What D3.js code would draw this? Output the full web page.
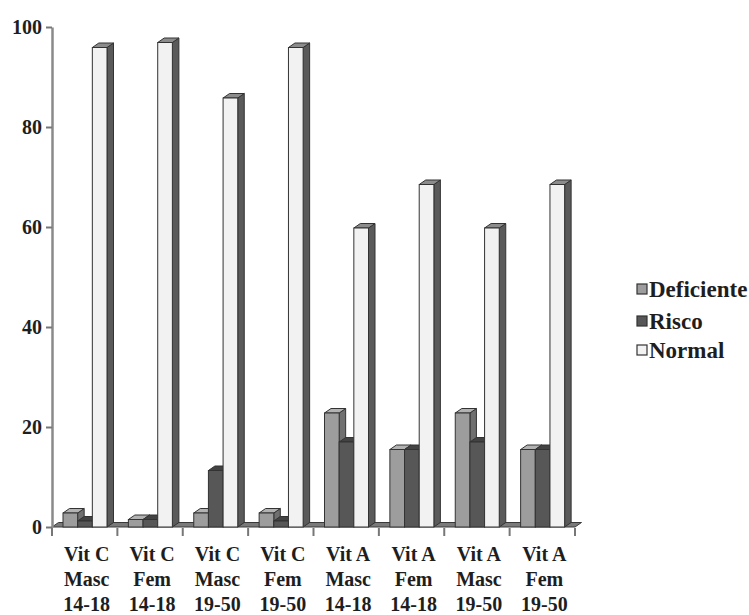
<!DOCTYPE html>
<html>
<head>
<meta charset="utf-8">
<script src="https://cdn.jsdelivr.net/npm/d3@7"></script>
<style>
  body { margin: 0; background: #fff; }
  svg { display: block; }
  text { font-family: "Liberation Serif", "Times New Roman", serif; font-weight: bold; fill: #1e1e1e; }
</style>
</head>
<body>
<svg id="chart" width="749" height="615"></svg>
<script>
// Category label lines
const nutrients = ["Vit C", "Vit C", "Vit C", "Vit C", "Vit A", "Vit A", "Vit A", "Vit A"];
const sexes = ["Masc", "Fem", "Masc", "Fem", "Masc", "Fem", "Masc", "Fem"];
const ages = ["14-18", "14-18", "19-50", "19-50", "14-18", "14-18", "19-50", "19-50"];

// Series (percent of group)
const seriesNames = ["Deficiente", "Risco", "Normal"];
const deficiente = [2.8, 1.5, 2.8, 2.8, 22.8, 15.5, 22.8, 15.5];
const risco = [1.2, 1.5, 11.3, 1.2, 17.0, 15.5, 17.0, 15.5];
const normal = [95.9, 96.9, 85.8, 95.9, 59.8, 68.5, 59.8, 68.5];
const yTicks = [0, 20, 40, 60, 80, 100];

const seriesValues = { Deficiente: deficiente, Risco: risco, Normal: normal };

const svg = d3.select("#chart");

// Scales
const x = d3.scaleBand().domain(d3.range(nutrients.length)).range([52, 575]).padding(0);
const xs = d3.scaleBand().domain(seriesNames).range([11, 55]).padding(0);
const y = d3.scaleLinear().domain([0, 100]).range([527, 27]);

// 3D depth offset for top/side faces
const DX = 6.5, DY = -4.5;

const faces = {
  Deficiente: { front: "#9d9d9d", top: "#b2b2b2", side: "#707070" },
  Risco:      { front: "#575757", top: "#434343", side: "#383838" },
  Normal:     { front: "#f2f2f2", top: "#8c8c8c", side: "#5a5a5a" }
};
const edge = "#333";

// Floor
const y0 = y(0), xL = x.range()[0], xR = x.range()[1];
svg.append("polygon")
  .attr("points", [[xL, y0], [xR, y0], [xR + DX, y0 + DY], [xL + DX, y0 + DY]].map(p => p.join(",")).join(" "))
  .attr("fill", "#7a7a7a")
  .attr("stroke", "#3a3a3a")
  .attr("stroke-width", 1);

// Bars, drawn left to right so each front face overlaps its neighbour's side
const barsG = svg.append("g");
nutrients.forEach((_, i) => {
  seriesNames.forEach(s => {
    const v = seriesValues[s][i];
    const x0 = x(i) + xs(s), x1 = x0 + xs.bandwidth();
    const yv = y(v);
    const g = barsG.append("g");
    g.append("polygon")
      .attr("points", [[x1, yv], [x1 + DX, yv + DY], [x1 + DX, y0 + DY], [x1, y0]].map(p => p.join(",")).join(" "))
      .attr("fill", faces[s].side).attr("stroke", edge).attr("stroke-width", 1).attr("stroke-linejoin", "round");
    g.append("polygon")
      .attr("points", [[x0, yv], [x1, yv], [x1 + DX, yv + DY], [x0 + DX, yv + DY]].map(p => p.join(",")).join(" "))
      .attr("fill", faces[s].top).attr("stroke", edge).attr("stroke-width", 1).attr("stroke-linejoin", "round");
    g.append("rect")
      .attr("x", x0).attr("y", yv)
      .attr("width", x1 - x0).attr("height", y0 - yv)
      .attr("fill", faces[s].front).attr("stroke", edge).attr("stroke-width", 1);
  });
});

// Value axis
const yAxis = svg.append("g")
  .attr("transform", `translate(${xL},0)`)
  .call(d3.axisLeft(y).tickValues(yTicks).tickSize(6).tickSizeOuter(0).tickPadding(4));
yAxis.select(".domain").attr("stroke", "#8a8a8a").attr("stroke-width", 2.5);
yAxis.selectAll(".tick line").attr("stroke", "#777").attr("stroke-width", 2);
yAxis.selectAll(".tick text")
  .attr("font-size", 20).attr("font-family", null).attr("dy", "0.34em");

// Category boundary ticks
const bounds = d3.range(nutrients.length).map(i => x(i)).concat([xR]);
svg.append("g").selectAll("line").data(bounds).join("line")
  .attr("x1", d => d).attr("x2", d => d)
  .attr("y1", y0 + 1).attr("y2", y0 + 9)
  .attr("stroke", "#777").attr("stroke-width", 2);

// Category labels (three lines each)
const labels = svg.append("g").attr("font-size", 20).attr("text-anchor", "middle");
nutrients.forEach((n, i) => {
  const cx = x(i) + x.bandwidth() / 2 + 2;
  const t = labels.append("text").attr("x", cx);
  [n, sexes[i], ages[i]].forEach((line, k) => {
    t.append("tspan").attr("x", cx).attr("y", 561 + k * 25).text(line);
  });
});

// Legend
const legend = svg.append("g").attr("transform", "translate(637,289)");
seriesNames.forEach((s, k) => {
  const row = legend.append("g").attr("transform", `translate(0,${[0, 32, 61][k]})`);
  row.append("rect").attr("x", 0).attr("y", -5).attr("width", 10).attr("height", 10)
    .attr("fill", faces[s].front).attr("stroke", edge).attr("stroke-width", 1.2);
  row.append("text").attr("x", 12).attr("y", 7.5).attr("font-size", 23).text(s);
});
</script>
</body>
</html>
